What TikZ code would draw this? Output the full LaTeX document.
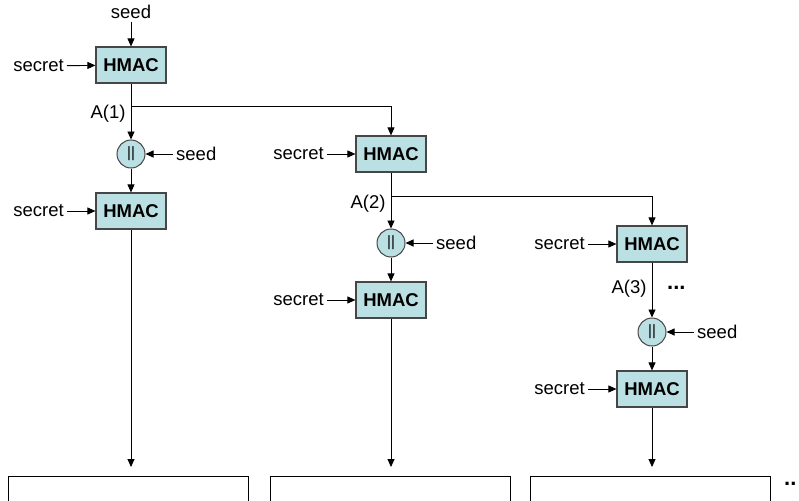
\documentclass[tikz,border=0pt]{standalone}
\usepackage{fontspec}
\setmainfont{Liberation Sans}
\usetikzlibrary{arrows.meta}
\definecolor{boxfill}{RGB}{187,224,227}
\definecolor{boxline}{RGB}{70,70,70}
\begin{document}
\begin{tikzpicture}[x=1pt,y=-1pt,
  hmac/.style={draw=boxline,line width=1.2pt,fill=boxfill,minimum width=70pt,minimum height=36pt,inner sep=0pt,font=\fontsize{18.5}{20}\selectfont\bfseries},
  cat/.style={circle,draw=boxline,line width=1pt,fill=boxfill,minimum size=28pt,inner sep=0pt,font=\fontsize{15}{18}\selectfont},
  lbl/.style={inner sep=3pt,font=\fontsize{18.5}{20}\selectfont},
  dotlbl/.style={inner sep=0pt,font=\fontsize{22}{24}\selectfont\bfseries},
  arr/.style={-{Triangle[length=8pt,width=7pt]},line width=0.9pt},
  outbox/.style={draw,line width=0.9pt,minimum width=240pt,minimum height=60pt,anchor=north,inner sep=0pt}]
\useasboundingbox (0,0) rectangle (799,500);
\clip (0,0) rectangle (799,500);

% column 1
\node[hmac] (h1) at (131,65) {HMAC};
\node[lbl] (seed0) at (131,12) {seed};
\node[lbl,anchor=east] (sec1) at (67,66) {secret};
\coordinate (j1) at (131,106);
\node[lbl] (a1) at (108,114) {A(1)};
\node[cat] (c1) at (131,154) {||};
\node[lbl,anchor=west] (sd1) at (173,154) {seed};
\node[hmac] (h3) at (131,211) {HMAC};
\node[lbl,anchor=east] (sec3) at (67,211) {secret};
\coordinate (e1) at (131,467);
\node[outbox] (b1) at (128,476) {};

% column 2
\node[hmac] (h2) at (391,154) {HMAC};
\node[lbl,anchor=east] (sec2) at (327,154) {secret};
\coordinate (j2) at (391,196);
\node[lbl] (a2) at (368,204) {A(2)};
\node[cat] (c2) at (391,243) {||};
\node[lbl,anchor=west] (sd2) at (433,243) {seed};
\node[hmac] (h4) at (391,300) {HMAC};
\node[lbl,anchor=east] (sec4) at (327,300) {secret};
\coordinate (e2) at (391,467);
\node[outbox] (b2) at (390,476) {};

% column 3
\node[hmac] (h5) at (652,244) {HMAC};
\node[lbl,anchor=east] (sec5) at (588,244) {secret};
\node[lbl] (a3) at (629,289) {A(3)};
\node[dotlbl,anchor=west] (dots1) at (667,288) {...};
\node[cat] (c3) at (652,332) {||};
\node[lbl,anchor=west] (sd3) at (694,332) {seed};
\node[hmac] (h6) at (652,389) {HMAC};
\node[lbl,anchor=east] (sec6) at (588,389) {secret};
\coordinate (e3) at (652,467);
\node[outbox] (b3) at (650.5,476) {};
\node[dotlbl,anchor=west] (dots2) at (784,484) {..};

% connectors column 1
\draw[arr] (seed0) -- (h1);
\draw[arr] (sec1) -- (h1);
\draw[arr] (h1) -- (c1);
\draw[arr] (j1) -| (h2);
\draw[arr] (sd1) -- (c1);
\draw[arr] (c1) -- (h3);
\draw[arr] (sec3) -- (h3);
\draw[arr] (h3) -- (e1);

% connectors column 2
\draw[arr] (sec2) -- (h2);
\draw[arr] (h2) -- (c2);
\draw[arr] (j2) -| (h5);
\draw[arr] (sd2) -- (c2);
\draw[arr] (c2) -- (h4);
\draw[arr] (sec4) -- (h4);
\draw[arr] (h4) -- (e2);

% connectors column 3
\draw[arr] (sec5) -- (h5);
\draw[arr] (h5) -- (c3);
\draw[arr] (sd3) -- (c3);
\draw[arr] (c3) -- (h6);
\draw[arr] (sec6) -- (h6);
\draw[arr] (h6) -- (e3);
\end{tikzpicture}
\end{document}
